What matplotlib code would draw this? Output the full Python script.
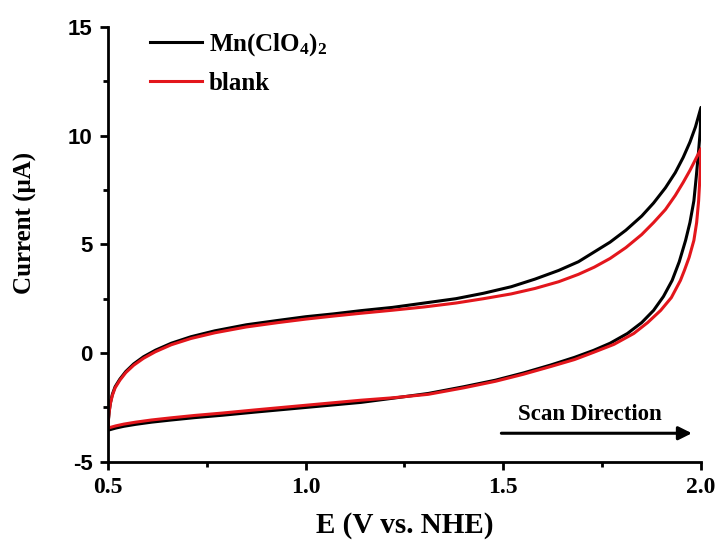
import matplotlib
matplotlib.use("Agg")
import matplotlib.pyplot as plt

plt.rcParams['mathtext.fontset'] = 'custom'
plt.rcParams['mathtext.rm'] = 'Liberation Serif:bold'
plt.rcParams['mathtext.default'] = 'rm'

# Mn(ClO4)2 forward (anodic) sweep
mn_fwd_E = [0.500, 0.501, 0.503, 0.506, 0.511, 0.518, 0.53, 0.545, 0.565, 0.59, 0.62, 0.66, 0.71, 0.77,
            0.85, 0.93, 1.0, 1.07, 1.14, 1.22, 1.30, 1.38, 1.45, 1.52, 1.58, 1.64, 1.69, 1.73, 1.77,
            1.81, 1.85, 1.88, 1.91, 1.935, 1.955, 1.972, 1.986, 2.0]
mn_fwd_I = [-3.50, -3.1, -2.7, -2.3, -1.9, -1.55, -1.2, -0.85, -0.5, -0.17, 0.13, 0.45, 0.75, 1.02,
            1.3, 1.5, 1.67, 1.8, 1.95, 2.1, 2.3, 2.5, 2.75, 3.05, 3.4, 3.8, 4.2, 4.65, 5.1,
            5.65, 6.3, 6.9, 7.6, 8.3, 9.0, 9.7, 10.4, 11.3]
# Mn(ClO4)2 reverse sweep
mn_rev_E = [2.0, 1.998, 1.994, 1.988, 1.982, 1.972, 1.961, 1.945, 1.927, 1.905, 1.88, 1.85, 1.814,
            1.77, 1.728, 1.68, 1.62, 1.55, 1.48, 1.40, 1.31, 1.22, 1.14, 1.05, 0.96, 0.87, 0.79,
            0.72, 0.66, 0.61, 0.57, 0.54, 0.52, 0.508, 0.5]
mn_rev_I = [11.3, 10.2, 9.3, 8.1, 7.0, 6.0, 5.18, 4.2, 3.34, 2.6, 1.96, 1.4, 0.9,
            0.45, 0.12, -0.2, -0.55, -0.92, -1.25, -1.55, -1.86, -2.08, -2.27, -2.42, -2.57, -2.72, -2.86,
            -2.97, -3.08, -3.18, -3.28, -3.37, -3.45, -3.51, -3.55]

# blank forward sweep
bl_fwd_E = [0.500, 0.501, 0.503, 0.506, 0.511, 0.518, 0.53, 0.545, 0.565, 0.59, 0.62, 0.66, 0.71, 0.77,
            0.85, 0.93, 1.0, 1.07, 1.14, 1.22, 1.30, 1.38, 1.45, 1.52, 1.58, 1.64, 1.69, 1.73, 1.77,
            1.81, 1.85, 1.88, 1.91, 1.935, 1.955, 1.972, 1.986, 2.0]
bl_fwd_I = [-3.42, -3.05, -2.7, -2.33, -1.95, -1.6, -1.25, -0.9, -0.56, -0.24, 0.06, 0.38, 0.67, 0.93,
            1.2, 1.4, 1.56, 1.7, 1.83, 1.97, 2.12, 2.3, 2.5, 2.72, 2.97, 3.28, 3.62, 3.95, 4.35,
            4.85, 5.45, 6.0, 6.6, 7.25, 7.85, 8.4, 8.9, 9.4]
# blank reverse sweep
bl_rev_E = [2.0, 1.999, 1.997, 1.994, 1.989, 1.982, 1.97, 1.958, 1.948, 1.925, 1.898, 1.865, 1.83,
            1.78, 1.728, 1.68, 1.62, 1.55, 1.48, 1.40, 1.31, 1.22, 1.14, 1.05, 0.96, 0.87, 0.79,
            0.72, 0.66, 0.61, 0.57, 0.54, 0.52, 0.508, 0.5]
bl_rev_I = [9.4, 8.8, 8.0, 7.0, 6.0, 5.18, 4.4, 3.8, 3.34, 2.55, 1.96, 1.4, 0.9,
            0.4, 0.03, -0.3, -0.62, -0.98, -1.3, -1.6, -1.9, -2.06, -2.17, -2.32, -2.47, -2.62, -2.76,
            -2.87, -2.98, -3.08, -3.18, -3.27, -3.35, -3.41, -3.45]

x_ticks = [0.5, 1.0, 1.5, 2.0]
x_ticklabels = ['0.5', '1.0', '1.5', '2.0']
y_ticks = [-5, 0, 5, 10, 15]
y_ticklabels = ['-5', '0', '5', '10', '15']

BLACK = '#000000'
RED = '#e3161c'

fig = plt.figure(figsize=(7.2, 5.5), dpi=100)
ax = fig.add_axes([0.15, 0.1605, 0.8236, 0.7905])

ax.plot(mn_fwd_E + mn_rev_E, mn_fwd_I + mn_rev_I, color=BLACK, lw=2.2, label=r'Mn(ClO$_4$)$_2$',
        solid_joinstyle='round')
ax.plot(bl_fwd_E + bl_rev_E, bl_fwd_I + bl_rev_I, color=RED, lw=2.2, label='blank',
        solid_joinstyle='round')

ax.set_xlim(0.5, 2.0)
ax.set_ylim(-5, 15)
ax.set_xticks(x_ticks)
ax.set_xticklabels(x_ticklabels, fontfamily='Liberation Serif', fontweight='bold', fontsize=17)
ax.set_yticks(y_ticks)
ax.set_yticklabels(y_ticklabels, fontfamily='Liberation Sans', fontweight='bold', fontsize=16)
ax.set_xticks([0.75, 1.25, 1.75], minor=True)
ax.set_yticks([-2.5, 2.5, 7.5, 12.5], minor=True)
ax.tick_params(which='major', direction='out', length=6, width=2, pad=5)
ax.tick_params(which='minor', direction='out', length=3.5, width=2)

for s in ['top', 'right']:
    ax.spines[s].set_visible(False)
for s in ['left', 'bottom']:
    ax.spines[s].set_linewidth(2)

ax.set_xlabel('E (V vs. NHE)', fontfamily='Liberation Serif', fontweight='bold', fontsize=21, labelpad=10)
ax.set_ylabel('Current (\u03bcA)', fontfamily='Liberation Serif', fontweight='bold', fontsize=18)
ax.yaxis.set_label_coords(-0.12, 0.549)

leg = ax.legend(loc='upper left', bbox_to_anchor=(0.07, 0.99), frameon=False, borderpad=0,
                borderaxespad=0, handlelength=2.1, handletextpad=0.28, labelspacing=0.56,
                prop={'family': 'Liberation Serif', 'weight': 'bold', 'size': 18})

ax.annotate('', xy=(1.977, -3.69), xytext=(1.495, -3.69),
            arrowprops=dict(arrowstyle='-|>', color=BLACK, lw=2.2, mutation_scale=20,
                            shrinkA=0, shrinkB=0))
ax.text(1.72, -2.85, 'Scan Direction', ha='center', va='center',
        fontfamily='Liberation Serif', fontweight='bold', fontsize=16.5)

fig.savefig('out.png', dpi=100)
